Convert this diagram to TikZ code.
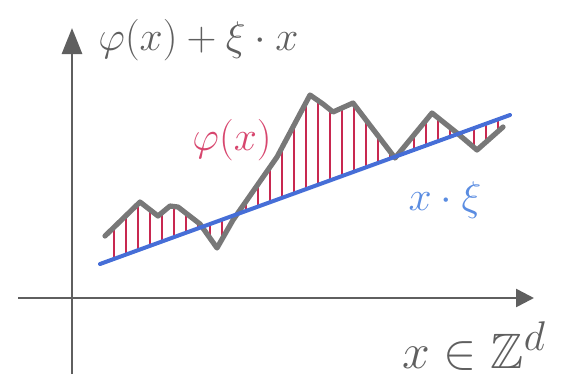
\documentclass[tikz,border=0pt]{standalone}
\usepackage{amssymb}
\usetikzlibrary{arrows.meta,positioning}
\definecolor{axisgray}{RGB}{95,95,95}
\definecolor{curvegray}{RGB}{120,120,120}
\definecolor{slopeblue}{RGB}{70,110,215}
\definecolor{hatchred}{RGB}{200,40,80}
\definecolor{labelred}{RGB}{215,70,110}
\definecolor{labelblue}{RGB}{90,140,225}
\begin{document}
\begin{tikzpicture}[x=0.5pt,y=-0.5pt,
  axis/.style={draw=axisgray,line width=1.3pt},
  graphline/.style={draw=curvegray,line width=2.6pt,line join=round,line cap=round},
  slope/.style={draw=slopeblue,line width=2pt,line cap=round},
  hatch/.style={draw=hatchred,line width=0.8pt},
  every node/.style={font=\huge,inner sep=1pt}]
\useasboundingbox (0,0) rectangle (573,377);
% axes
\coordinate (ytop) at (72,28);
\coordinate (ybot) at (72,374);
\coordinate (xleft) at (18,298);
\coordinate (xright) at (534,298);
\draw[axis,-{Triangle[length=13pt,width=10pt]}] (ybot) -- (ytop);
\draw[axis,-{Triangle[length=9pt,width=9pt]}] (xleft) -- (xright);
% linear part x.xi
\coordinate (b1) at (100,264);
\coordinate (b2) at (510,115);
% graph of phi(x)+xi.x
\foreach \gx/\gy [count=\i] in {105/236,140/202,158/216,170/206,178/207,200/224,
  217/248,233/220,277/157,310/95,323/104,333/112,353/103,395/158,
  432/113,457/133,477/150,503/127}
  \coordinate (g\i) at (\gx,\gy);
% hatching between graph and line
\begin{scope}
  \clip (g1) \foreach \i in {2,...,18} {-- (g\i)} -- (b2) -- (b1) -- cycle;
  \foreach \x in {114,126,...,506}
    \draw[hatch] (\x,0) -- (\x,377);
\end{scope}
\draw[graphline] (g1) \foreach \i in {2,...,18} {-- (g\i)};
\draw[slope] (b1) -- (b2);
% labels
\node[text=axisgray,anchor=west] (ylabel) at (96,40) {$\varphi(x)+\xi\cdot x$};
\node[text=labelred] (philabel) at (232,140) {$\varphi(x)$};
\node[text=labelblue] (slopelabel) at (445,200) {$x\cdot\xi$};
\node[text=axisgray,font=\Huge] (xlabel) at (474,346) {$x\in\mathbb{Z}^d$};
\end{tikzpicture}
\end{document}
